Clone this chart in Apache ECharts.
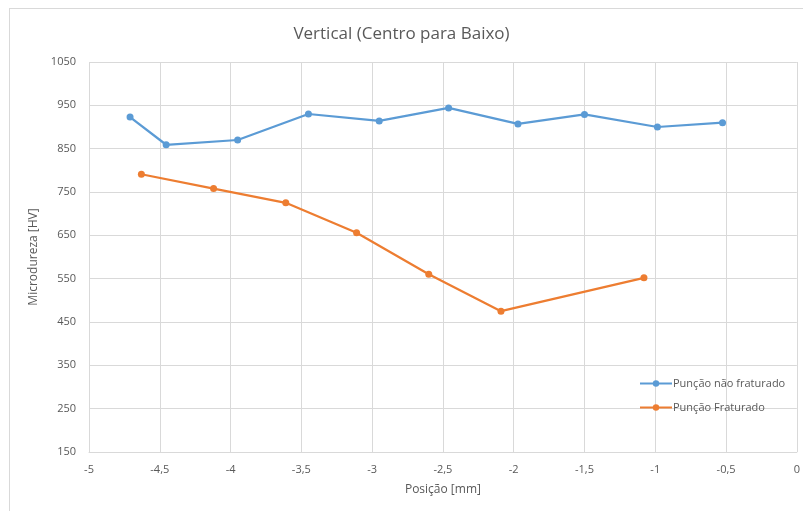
<!DOCTYPE html>
<html>
<head>
<meta charset="utf-8">
<title>Vertical (Centro para Baixo)</title>
<script src="https://cdn.jsdelivr.net/npm/echarts@6/dist/echarts.min.js"></script>
<style>
  html, body { margin: 0; padding: 0; background: #ffffff; overflow: hidden; }
  #frame { position: absolute; left: 9px; top: 8px; width: 900px; height: 600px; border: 1px solid #d9d9d9; box-sizing: border-box; }
  #chart { position: absolute; left: 0; top: 0; width: 803px; height: 511px; }
</style>
</head>
<body>
<div id="frame"></div>
<div id="chart"></div>
<script>
// Posição [mm] and microdureza [HV] for each punção
const posNaoFraturado = [-4.71, -4.455, -3.95, -3.45, -2.95, -2.46, -1.97, -1.5, -0.985, -0.525];
const hvNaoFraturado  = [923, 859, 870, 930, 914, 944, 907, 929, 900, 910];

const posFraturado = [-4.63, -4.12, -3.61, -3.11, -2.60, -2.09, -1.08];
const hvFraturado  = [791, 758, 725, 656, 560, 475, 552];

const seriesNames = ['Punção não fraturado', 'Punção Fraturado'];
const titleText = 'Vertical (Centro para Baixo)';
const xAxisName = 'Posição [mm]';
const yAxisName = 'Microdureza [HV]';

const pairs = (xs, ys) => xs.map((x, i) => [x, ys[i]]);

const FONT = '"Open Sans", "Noto Sans", sans-serif';
const TEXT = '#595959';
const GRID = '#d9d9d9';

const chart = echarts.init(document.getElementById('chart'), null, { renderer: 'canvas' });

chart.setOption({
  backgroundColor: 'transparent',
  animation: false,
  title: {
    text: titleText,
    left: 'center',
    top: 21,
    textStyle: { fontFamily: FONT, fontSize: 17, fontWeight: 'normal', color: TEXT }
  },
  grid: { left: 89, right: 6, top: 62, bottom: 59, containLabel: false },
  legend: {
    orient: 'vertical',
    left: 634,
    top: 373,
    itemGap: 13,
    itemWidth: 32,
    itemHeight: 8,
    textStyle: { fontFamily: FONT, fontSize: 11, color: TEXT, padding: [0, 0, 0, -4] },
    data: seriesNames
  },
  xAxis: {
    type: 'value',
    min: -5,
    max: 0,
    interval: 0.5,
    name: xAxisName,
    nameLocation: 'middle',
    nameGap: 32,
    nameTextStyle: { fontFamily: FONT, fontSize: 12, color: TEXT },
    axisLine: { show: true, onZero: false, lineStyle: { color: GRID, width: 1 } },
    axisTick: { show: false },
    splitLine: { show: true, lineStyle: { color: GRID, width: 1 } },
    axisLabel: {
      fontFamily: FONT, fontSize: 11, color: TEXT, margin: 12,
      formatter: v => String(Math.round(v * 10) / 10).replace('.', ',')
    }
  },
  yAxis: {
    type: 'value',
    min: 150,
    max: 1050,
    interval: 100,
    name: yAxisName,
    nameLocation: 'middle',
    nameGap: 46,
    nameTextStyle: { fontFamily: FONT, fontSize: 12, color: TEXT },
    axisLine: { show: false },
    axisTick: { show: false },
    splitLine: { show: true, lineStyle: { color: GRID, width: 1 } },
    axisLabel: { fontFamily: FONT, fontSize: 11, color: TEXT, margin: 13, formatter: v => String(v) }
  },
  series: [
    {
      name: seriesNames[0],
      type: 'line',
      data: pairs(posNaoFraturado, hvNaoFraturado),
      symbol: 'circle',
      symbolSize: 7,
      lineStyle: { color: '#5b9bd5', width: 2.25 },
      itemStyle: { color: '#5b9bd5' }
    },
    {
      name: seriesNames[1],
      type: 'line',
      data: pairs(posFraturado, hvFraturado),
      symbol: 'circle',
      symbolSize: 7,
      lineStyle: { color: '#ed7d31', width: 2.25 },
      itemStyle: { color: '#ed7d31' }
    }
  ]
});
</script>
</body>
</html>
